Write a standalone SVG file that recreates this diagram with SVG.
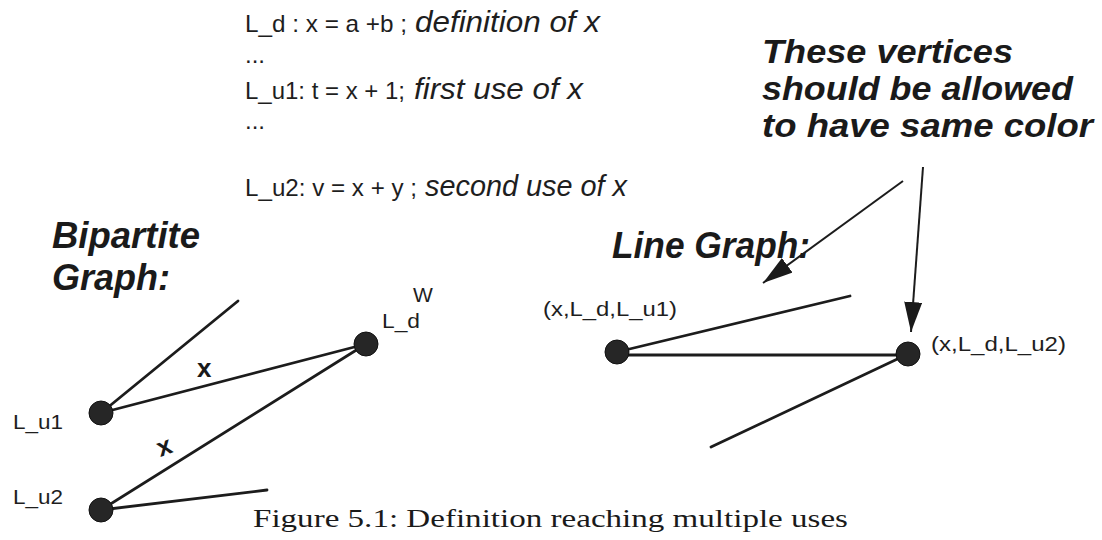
<svg xmlns="http://www.w3.org/2000/svg" width="1102" height="540" viewBox="0 0 1102 540">
<style>
.code{font-family:"Liberation Sans",Arial,sans-serif;font-size:24px;fill:#1e1e1e}
.ital{font-family:"Liberation Sans",Arial,sans-serif;font-size:29px;font-style:italic;fill:#1e1e1e}
.title{font-family:"Liberation Sans",Arial,sans-serif;font-size:36px;font-weight:bold;font-style:italic;fill:#1a1a1a}
.note{font-family:"Liberation Sans",Arial,sans-serif;font-size:34px;font-weight:bold;font-style:italic;fill:#1a1a1a}
.lbl{font-family:"Liberation Sans",Arial,sans-serif;font-size:21px;fill:#1e1e1e}
.elbl{font-family:"Liberation Sans",Arial,sans-serif;font-size:26px;font-weight:bold;fill:#1a1a1a}
.cap{font-family:"Liberation Serif","Times New Roman",serif;font-size:26px;fill:#1a1a1a}
.edge{stroke:#1c1c1c;stroke-width:2.8;fill:none;stroke-linecap:round}
.arrow{stroke:#1c1c1c;stroke-width:2;fill:none}
.node{fill:#262626;stroke:#111;stroke-width:1}
</style>
<defs>
<marker id="ah" markerUnits="userSpaceOnUse" markerWidth="30" markerHeight="18" refX="30" refY="9" orient="auto">
<path d="M0,0 L30,9 L0,18 z" fill="#1a1a1a"/>
</marker>
</defs>
<rect width="1102" height="540" fill="#ffffff"/>

<g id="code">
<text class="code" x="245" y="32" textLength="162" lengthAdjust="spacingAndGlyphs">L_d : x = a +b ;</text>
<text class="ital" x="415" y="32" textLength="185" lengthAdjust="spacingAndGlyphs">definition of x</text>
<text class="code" x="245" y="63">...</text>
<text class="code" x="245" y="99" textLength="160" lengthAdjust="spacingAndGlyphs">L_u1: t = x + 1;</text>
<text class="ital" x="414" y="99" textLength="169" lengthAdjust="spacingAndGlyphs">first use of x</text>
<text class="code" x="245" y="129">...</text>
<text class="code" x="245" y="196" textLength="172" lengthAdjust="spacingAndGlyphs">L_u2: v = x + y ;</text>
<text class="ital" x="425" y="196" textLength="202" lengthAdjust="spacingAndGlyphs">second use of x</text>
</g>

<g id="note">
<text class="note" x="762" y="63" textLength="251" lengthAdjust="spacingAndGlyphs">These vertices</text>
<text class="note" x="762" y="100" textLength="311" lengthAdjust="spacingAndGlyphs">should be allowed</text>
<text class="note" x="762" y="137" textLength="331" lengthAdjust="spacingAndGlyphs">to have same color</text>
</g>

<g id="headings">
<text class="title" x="52" y="248" textLength="148" lengthAdjust="spacingAndGlyphs">Bipartite</text>
<text class="title" x="52" y="290" textLength="118" lengthAdjust="spacingAndGlyphs">Graph:</text>
<text class="title" x="612" y="258" font-size="35" textLength="198" lengthAdjust="spacingAndGlyphs">Line Graph:</text>
</g>

<g id="connectors">
<line class="edge" x1="101" y1="413" x2="238" y2="301"/>
<line class="edge" x1="101" y1="413" x2="366" y2="344"/>
<line class="edge" x1="101" y1="510" x2="366" y2="344"/>
<line class="edge" x1="101" y1="510" x2="267" y2="490"/>
<line class="edge" x1="617" y1="352" x2="850" y2="296"/>
<line class="edge" x1="617" y1="355" x2="908" y2="355"/>
<line class="edge" x1="908" y1="354" x2="711" y2="447"/>
<line class="arrow" x1="903" y1="181" x2="763" y2="283" marker-end="url(#ah)"/>
<line class="arrow" x1="923" y1="167" x2="911" y2="332" marker-end="url(#ah)"/>
<text class="elbl" x="197" y="377">x</text>
<text class="elbl" x="164" y="455" text-anchor="middle" transform="rotate(-20 164 446)">x</text>
</g>

<g id="node-Lu1">
<circle class="node" cx="101" cy="413" r="12"/>
<text class="lbl" x="13" y="429" textLength="50" lengthAdjust="spacingAndGlyphs">L_u1</text>
</g>
<g id="node-Lu2">
<circle class="node" cx="101" cy="510" r="12"/>
<text class="lbl" x="13" y="504" textLength="50" lengthAdjust="spacingAndGlyphs">L_u2</text>
</g>
<g id="node-Ld">
<circle class="node" cx="366" cy="344" r="12"/>
<text class="lbl" x="382" y="328" textLength="38" lengthAdjust="spacingAndGlyphs">L_d</text>
<text class="lbl" x="413" y="302" font-size="22">W</text>
</g>
<g id="node-xLdLu1">
<circle class="node" cx="617" cy="352" r="12"/>
<text class="lbl" x="543" y="316" font-size="22" textLength="134" lengthAdjust="spacingAndGlyphs">(x,L_d,L_u1)</text>
</g>
<g id="node-xLdLu2">
<circle class="node" cx="908" cy="354" r="12"/>
<text class="lbl" x="931" y="351" font-size="22" textLength="135" lengthAdjust="spacingAndGlyphs">(x,L_d,L_u2)</text>
</g>

<text class="cap" x="253" y="527" textLength="595" lengthAdjust="spacingAndGlyphs">Figure 5.1: Definition reaching multiple uses</text>
</svg>
